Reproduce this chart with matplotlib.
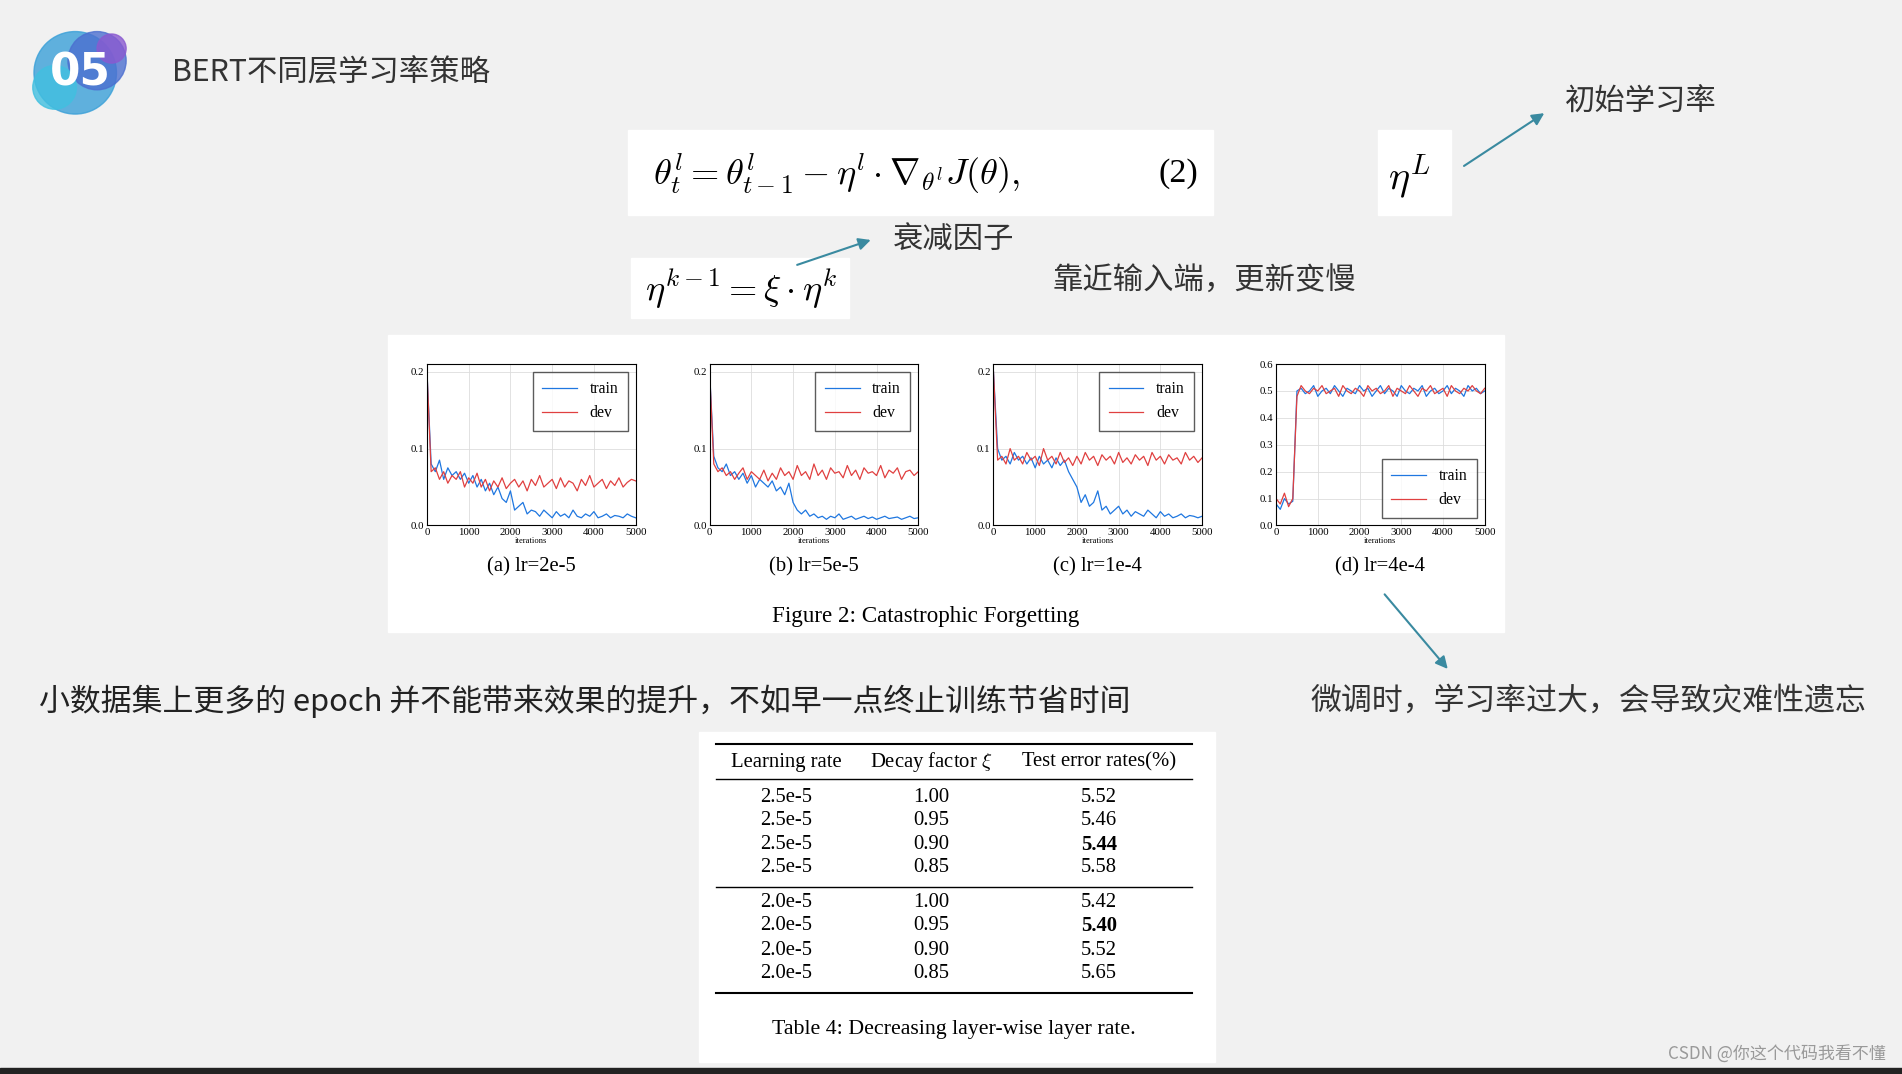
import numpy as np
import matplotlib
matplotlib.use("Agg")
import matplotlib.pyplot as plt
from matplotlib.patches import Rectangle, Circle

plt.rcParams['font.family'] = ['Noto Sans CJK SC', 'DejaVu Sans']
plt.rcParams['mathtext.fontset'] = 'cm'

W, H = 1568, 885
def fs(px): return px * 1902 / 1568 * 0.72

# ---------------- data ----------------
a_train = [0.20,0.08,0.07,0.085,0.06,0.075,0.065,0.07,0.06,0.068,0.055,0.065,0.05,0.06,0.045,0.055,0.04,0.05,0.035,0.03,0.045,0.02,0.025,0.03,0.015,0.02,0.018,0.012,0.02,0.015,0.01,0.018,0.012,0.015,0.01,0.02,0.012,0.01,0.015,0.012,0.018,0.01,0.012,0.015,0.01,0.013,0.012,0.01,0.015,0.012,0.01]
a_dev = [0.20,0.07,0.075,0.06,0.07,0.055,0.065,0.06,0.07,0.05,0.062,0.055,0.068,0.05,0.06,0.045,0.058,0.05,0.062,0.048,0.055,0.06,0.05,0.058,0.045,0.06,0.052,0.065,0.05,0.055,0.06,0.048,0.062,0.05,0.058,0.055,0.045,0.06,0.052,0.065,0.05,0.055,0.06,0.048,0.058,0.052,0.062,0.05,0.056,0.06,0.058]
b_train = [0.2,0.09,0.075,0.07,0.08,0.065,0.07,0.06,0.068,0.055,0.065,0.05,0.06,0.055,0.05,0.058,0.045,0.05,0.04,0.055,0.03,0.02,0.015,0.02,0.012,0.015,0.01,0.012,0.008,0.012,0.01,0.015,0.008,0.01,0.012,0.008,0.01,0.012,0.009,0.011,0.008,0.01,0.012,0.009,0.01,0.011,0.008,0.01,0.012,0.009,0.01]
b_dev = [0.2,0.08,0.07,0.075,0.065,0.07,0.06,0.068,0.075,0.06,0.07,0.065,0.06,0.072,0.058,0.068,0.06,0.075,0.065,0.07,0.06,0.078,0.065,0.07,0.06,0.08,0.065,0.072,0.06,0.075,0.068,0.07,0.062,0.078,0.065,0.072,0.06,0.075,0.068,0.07,0.065,0.078,0.062,0.072,0.068,0.075,0.06,0.07,0.072,0.065,0.07]
c_train = [0.2,0.1,0.085,0.09,0.08,0.095,0.085,0.09,0.08,0.088,0.075,0.09,0.08,0.085,0.075,0.088,0.078,0.085,0.07,0.06,0.05,0.03,0.04,0.025,0.03,0.045,0.02,0.025,0.015,0.02,0.025,0.015,0.02,0.012,0.018,0.015,0.012,0.02,0.015,0.01,0.018,0.012,0.015,0.01,0.012,0.015,0.01,0.013,0.012,0.01,0.012]
c_dev = [0.2,0.085,0.09,0.08,0.1,0.085,0.09,0.08,0.095,0.085,0.09,0.078,0.1,0.085,0.09,0.08,0.095,0.082,0.088,0.078,0.09,0.08,0.095,0.085,0.09,0.078,0.092,0.085,0.09,0.08,0.095,0.082,0.088,0.08,0.092,0.085,0.09,0.078,0.095,0.085,0.09,0.08,0.092,0.085,0.088,0.08,0.095,0.085,0.09,0.082,0.088]
d_train = [0.08,0.06,0.1,0.08,0.09,0.5,0.51,0.49,0.5,0.52,0.48,0.5,0.51,0.49,0.52,0.5,0.48,0.51,0.5,0.49,0.52,0.5,0.51,0.48,0.5,0.52,0.49,0.51,0.5,0.48,0.52,0.5,0.49,0.51,0.5,0.52,0.48,0.5,0.51,0.49,0.5,0.52,0.49,0.51,0.5,0.48,0.52,0.5,0.51,0.49,0.5]
d_dev = [0.1,0.08,0.12,0.07,0.1,0.48,0.52,0.5,0.49,0.51,0.5,0.52,0.49,0.5,0.51,0.48,0.52,0.5,0.49,0.51,0.5,0.48,0.52,0.5,0.51,0.49,0.5,0.52,0.48,0.51,0.5,0.49,0.52,0.5,0.48,0.51,0.5,0.52,0.49,0.5,0.51,0.48,0.52,0.5,0.49,0.51,0.5,0.52,0.5,0.49,0.51]
panel_titles = ["(a) lr=2e-5", "(b) lr=5e-5", "(c) lr=1e-4", "(d) lr=4e-4"]

table_header = ["Learning rate", "Decay factor $\\xi$", "Test error rates(%)"]
lr_col = ["2.5e-5"]*4 + ["2.0e-5"]*4
decay_col = ["1.00", "0.95", "0.90", "0.85"]*2
err_col = ["5.52", "5.46", "5.44", "5.58", "5.42", "5.40", "5.52", "5.65"]
bold_rows = [2, 5]

# ---------------- figure ----------------
fig = plt.figure(figsize=(19.02, 10.74), dpi=100)
fig.patch.set_facecolor('#f1f1f1')
bg = fig.add_axes([0, 0, 1, 1])
bg.set_xlim(0, W); bg.set_ylim(H, 0); bg.axis('off')
bg.add_patch(Rectangle((0, 880), W, 5, color='#222222'))

# logo
for (cx, cy, r, c) in [(62, 60, 34, '#3aa0d8'), (80, 50, 24, '#4c6fd0'), (45, 72, 18, '#41c0e0'), (92, 40, 12, '#8a5ad0')]:
    bg.add_patch(Circle((cx, cy), r, color=c, alpha=0.8))
bg.text(66, 60, "05", color='white', fontsize=fs(36), fontweight='bold', ha='center', va='center', family='DejaVu Sans')
bg.text(142, 60, "BERT不同层学习率策略", fontsize=fs(25), va='center', color='#333333')

# formula boxes
bg.add_patch(Rectangle((518, 107), 482, 70, color='white'))
bg.text(538, 143, r"$\theta_t^l = \theta_{t-1}^l - \eta^l \cdot \nabla_{\theta^l} J(\theta),$", fontsize=fs(30), va='center')
bg.text(988, 143, "(2)", fontsize=fs(28), va='center', ha='right', family='Liberation Serif')
bg.add_patch(Rectangle((1136, 107), 60, 70, color='white'))
bg.text(1144, 145, r"$\eta^L$", fontsize=fs(33), va='center')
bg.add_patch(Rectangle((520, 213), 180, 49, color='white'))
bg.text(532, 238, r"$\eta^{k-1} = \xi \cdot \eta^k$", fontsize=fs(30), va='center')

teal = '#3a8aa0'
def arrow(x1, y1, x2, y2):
    bg.annotate("", xy=(x2, y2), xytext=(x1, y1),
                arrowprops=dict(arrowstyle='-|>', color=teal, lw=1.5, mutation_scale=18))
arrow(1205, 138, 1275, 92)
arrow(655, 219, 720, 197)
arrow(1140, 488, 1195, 553)

bg.text(1290, 84, "初始学习率", fontsize=fs(25), va='center', color='#333333')
bg.text(736, 197, "衰减因子", fontsize=fs(25), va='center', color='#333333')
bg.text(868, 232, "靠近输入端，更新变慢", fontsize=fs(25), va='center', color='#333333')
bg.text(32, 578, "小数据集上更多的 epoch 并不能带来效果的提升，不如早一点终止训练节省时间", fontsize=fs(25.5), va='center', color='#222222')
bg.text(1080, 578, "微调时，学习率过大，会导致灾难性遗忘", fontsize=fs(25.5), va='center', color='#333333')
bg.text(1555, 868, "CSDN @你这个代码我看不懂", fontsize=fs(14), va='center', ha='right', color='#999999')

# chart panel
bg.add_patch(Rectangle((320, 276), 920, 245, color='white'))
serif = 'Liberation Serif'
bg.text(763, 508, "Figure 2: Catastrophic Forgetting", fontsize=fs(19), ha='center', va='center', family=serif)

lefts = [352, 585, 819, 1052]
datasets = [(a_train, a_dev), (b_train, b_dev), (c_train, c_dev), (d_train, d_dev)]
for i, (l, (tr, dv)) in enumerate(zip(lefts, datasets)):
    ax = fig.add_axes([l / W, 1 - 433 / H, 172 / W, 133 / H])
    x = np.linspace(0, 5000, len(tr))
    ax.plot(x, tr, color='#1f77e0', lw=0.9, label='train')
    ax.plot(x, dv, color='#e04040', lw=0.9, label='dev')
    ax.set_xlim(0, 5000)
    lp = {'family': serif, 'size': fs(13)}
    if i < 3:
        ax.set_ylim(0, 0.21); ax.set_yticks([0, 0.1, 0.2])
        ax.set_yticklabels(["0.0", "0.1", "0.2"])
        ax.legend(loc='upper right', prop=lp, fancybox=False, edgecolor='#333333', borderpad=0.6, handlelength=2.2)
    else:
        ax.set_ylim(0, 0.6); ax.set_yticks([0, .1, .2, .3, .4, .5, .6])
        ax.set_yticklabels(["0.0", "0.1", "0.2", "0.3", "0.4", "0.5", "0.6"])
        ax.legend(loc='lower right', prop=lp, fancybox=False, edgecolor='#333333', borderpad=0.6, handlelength=2.2)
    ax.set_xticks([0, 1000, 2000, 3000, 4000, 5000])
    ax.grid(True, color='#dddddd', lw=0.6)
    ax.tick_params(labelsize=fs(9), length=0, pad=2)
    for t in ax.get_xticklabels() + ax.get_yticklabels():
        t.set_family(serif)
    ax.set_xlabel("iterations", fontsize=fs(7), family=serif, labelpad=0)
    bg.text(l + 86, 467, panel_titles[i], fontsize=fs(17), ha='center', va='center', family=serif)

# table
bg.add_patch(Rectangle((576, 603), 426, 272, color='white'))
for y, lw in [(613, 1.5), (642, 1.0), (731, 1.0), (818, 1.5)]:
    bg.plot([590, 983], [y, y], color='black', lw=lw)
cols = [648, 768, 906]
for c, h in zip(cols, table_header):
    bg.text(c, 628, h, fontsize=fs(17), ha='center', va='center', family=serif)
row_y = [657, 676, 696, 715, 744, 763, 783, 802]
for k, y in enumerate(row_y):
    bg.text(cols[0], y, lr_col[k], fontsize=fs(17), ha='center', va='center', family=serif)
    bg.text(cols[1], y, decay_col[k], fontsize=fs(17), ha='center', va='center', family=serif)
    bg.text(cols[2], y, err_col[k], fontsize=fs(17), ha='center', va='center', family=serif,
            fontweight='bold' if k in bold_rows else 'normal')
bg.text(786, 848, "Table 4: Decreasing layer-wise layer rate.", fontsize=fs(18), ha='center', va='center', family=serif)

fig.savefig("out.png", dpi=100, facecolor=fig.get_facecolor())
